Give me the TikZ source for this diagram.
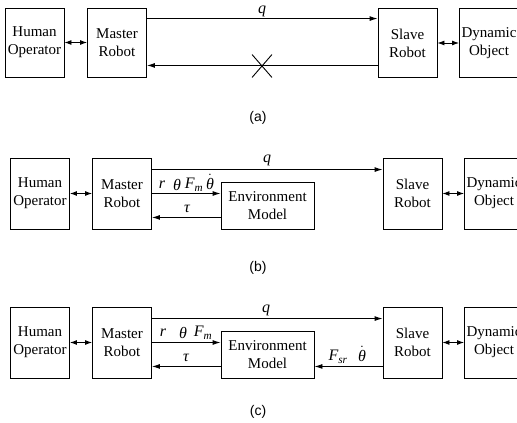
\documentclass[tikz,border=0pt]{standalone}
\usepackage{fontspec}
\setmainfont{Liberation Serif}
\newfontfamily\capfont{Liberation Sans}
\usetikzlibrary{arrows.meta,shapes.misc}
\newcommand\thdot{$\dot{\hbox{\itshape θ}}$}
\newcommand\Fsub[1]{F\textsubscript{#1}}
\begin{document}
\begin{tikzpicture}[x=1pt,y=-1pt,
  box/.style={draw,line width=0.9pt,align=center,inner sep=0pt,
    font=\fontsize{15}{18}\selectfont,minimum width=59pt},
  arr/.style={line width=0.9pt,-{Latex[length=8pt,width=5pt]}},
  dbl/.style={line width=0.9pt,{Latex[length=7pt,width=5pt]}-{Latex[length=7pt,width=5pt]}},
  lbl/.style={font=\fontsize{16}{18}\selectfont\itshape,inner sep=0pt},
  captxt/.style={font=\capfont\fontsize{14}{16}\selectfont,inner sep=0pt}]
\useasboundingbox (0,0) rectangle (517,423);
% ---------- (a)
\node[box,minimum height=69pt] (ha) at (34.5,42.5) {Human\\Operator};
\node[box,minimum height=69pt] (ma) at (117,42.5) {Master\\Robot};
\node[box,minimum height=69pt] (sa) at (407.5,43) {Slave\\Robot};
\node[box,minimum height=69pt] (da) at (489,43) {Dynamic\\Object};
\draw[dbl] (ha.east) -- (ma.west);
\draw[dbl] (sa.east) -- (da.west);
\coordinate (qa) at ([yshift=-11pt]ma.north east);
\draw[arr] (qa) -- (qa -| sa.west);
\node[lbl] (qla) at (262,11) {q};
\coordinate (ra) at ([yshift=12pt]ma.south east);
\draw[arr] (ra -| sa.west) -- (ra);
\node[cross out,draw,line width=0.9pt,minimum width=19pt,minimum height=22pt,inner sep=0pt] (xa) at (262,66) {};
\node[captxt] (capa) at (258,118) {(a)};
% ---------- (b)
\node[box,minimum height=71pt] (hb) at (40,193.5) {Human\\Operator};
\node[box,minimum height=71pt] (mb) at (122,193.5) {Master\\Robot};
\node[box,minimum height=47pt,minimum width=93pt] (eb) at (267.5,205.5) {Environment\\Model};
\node[box,minimum height=71pt] (sb) at (412.5,193.5) {Slave\\Robot};
\node[box,minimum height=71pt] (db) at (494,193.5) {Dynamic\\Object};
\draw[dbl] (hb.east) -- (mb.west);
\draw[dbl] (sb.east) -- (db.west);
\coordinate (qb) at ([yshift=-12pt]mb.north east);
\draw[arr] (qb) -- (qb -| sb.west);
\node[lbl] (qlb) at (267,160) {q};
\draw[arr] (mb.east) -- (mb.east -| eb.west);
\node[lbl] (rlb) at (162,185) {r};
\node[lbl] (tlb) at (177,185) {θ};
\node[lbl] (flb) at (194,185) {\Fsub{m}};
\node[lbl] (dlb) at (210,182) {\thdot};
\coordinate (tb) at ([yshift=12pt]eb.south west);
\draw[arr] (tb) -- (tb -| mb.east);
\node[lbl] (taub) at (187,209) {τ};
\node[captxt] (capb) at (258,268) {(b)};
% ---------- (c)
\node[box,minimum height=71pt] (hc) at (40,342.5) {Human\\Operator};
\node[box,minimum height=71pt] (mc) at (122,342.5) {Master\\Robot};
\node[box,minimum height=47pt,minimum width=93pt] (ec) at (267.5,354.5) {Environment\\Model};
\node[box,minimum height=71pt] (sc) at (412.5,342.5) {Slave\\Robot};
\node[box,minimum height=71pt] (dc) at (494,342.5) {Dynamic\\Object};
\draw[dbl] (hc.east) -- (mc.west);
\draw[dbl] (sc.east) -- (dc.west);
\coordinate (qc) at ([yshift=-12pt]mc.north east);
\draw[arr] (qc) -- (qc -| sc.west);
\node[lbl] (qlc) at (266,310) {q};
\draw[arr] (mc.east) -- (mc.east -| ec.west);
\node[lbl] (rlc) at (163,333) {r};
\node[lbl] (tlc) at (183,333) {θ};
\node[lbl] (flc) at (203,333) {\Fsub{m}};
\coordinate (tc) at ([yshift=12pt]ec.south west);
\draw[arr] (tc) -- (tc -| mc.east);
\node[lbl] (tauc) at (186,358) {τ};
\coordinate (fc) at ([yshift=12pt]ec.south east);
\draw[arr] (fc -| sc.west) -- (fc);
\node[lbl] (fslc) at (338,357) {\Fsub{sr}};
\node[lbl] (dlc) at (362,354) {\thdot};
\node[captxt] (capc) at (258,412) {(c)};
\end{tikzpicture}
\end{document}
